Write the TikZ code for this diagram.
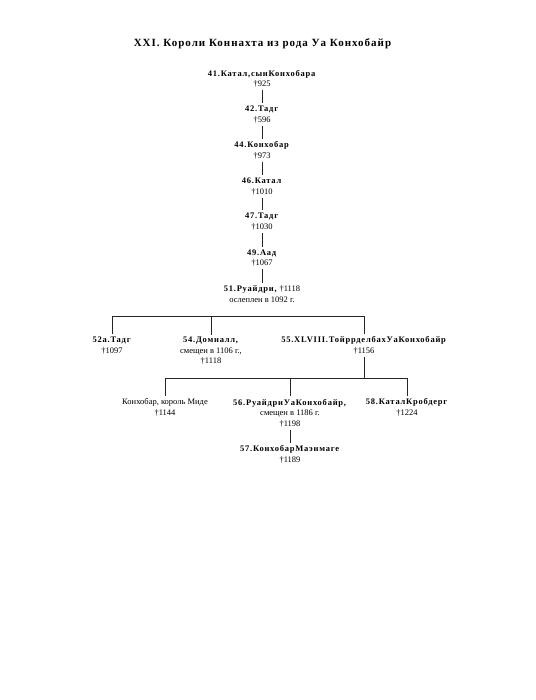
\documentclass[tikz,border=0pt]{standalone}
\usepackage{fontspec}
\setmainfont{Liberation Serif}[BoldFeatures={LetterSpace=9}]
\begin{document}
\begin{tikzpicture}[x=1pt,y=-1pt,
  person/.style={align=center,inner sep=2.5pt,font=\fontsize{8.5}{10.5}\selectfont},
  conn/.style={draw=black!85,line width=0.6pt}]
\useasboundingbox (0,0) rectangle (535,700);
\node[font=\fontsize{11}{13}\selectfont\bfseries] (title) at (262.5,44) {XXI. Короли Коннахта из рода Уа Конхобайр};
\node[person] (n41) at (262,79) {\textbf{41.Катал,сынКонхобара}\\†925};
\node[person] (n42) at (262,114.5) {\textbf{42.Тадг}\\†596};
\node[person] (n44) at (262,150.5) {\textbf{44.Конхобар}\\†973};
\node[person] (n46) at (262,186.5) {\textbf{46.Катал}\\†1010};
\node[person] (n47) at (262,221.5) {\textbf{47.Тадг}\\†1030};
\node[person] (n49) at (262,258) {\textbf{49.Аад}\\†1067};
\node[person] (n51) at (262,294) {\textbf{51.Руайдри,} †1118\\ослеплен в 1092 г.};
\node[person] (n52) at (112,345.5) {\textbf{52а.Тадг}\\†1097};
\node[person] (n54) at (211,351) {\textbf{54.Домналл,}\\смещен в 1106 г.,\\†1118};
\node[person] (n55) at (364,345.5) {\textbf{55.XLVIII.ТойррделбахУаКонхобайр}\\†1156};
\node[person] (nk) at (165,407.5) {Конхобар, король Миде\\†1144};
\node[person] (n56) at (290,413) {\textbf{56.РуайдриУаКонхобайр,}\\смещен в 1186 г.\\†1198};
\node[person] (n58) at (407,407.5) {\textbf{58.КаталКробдерг}\\†1224};
\node[person] (n57) at (290,454.5) {\textbf{57.КонхобарМаэнмаге}\\†1189};
\coordinate (b1) at (0,316);
\coordinate (b2) at (0,378);
\draw[conn] (n41) -- (n42);
\draw[conn] (n42) -- (n44);
\draw[conn] (n44) -- (n46);
\draw[conn] (n46) -- (n47);
\draw[conn] (n47) -- (n49);
\draw[conn] (n49) -- (n51);
\draw[conn] (n52.north) -- (n52.north |- b1) -- (n55.north |- b1) -- (n55.north);
\draw[conn] (n54.north) -- (n54.north |- b1);
\draw[conn] (n55.south) -- (n55.south |- b2);
\draw[conn] (nk.north) -- (nk.north |- b2) -- (n58.north |- b2) -- (n58.north);
\draw[conn] (n56.north) -- (n56.north |- b2);
\draw[conn] (n56) -- (n57);
\end{tikzpicture}
\end{document}
